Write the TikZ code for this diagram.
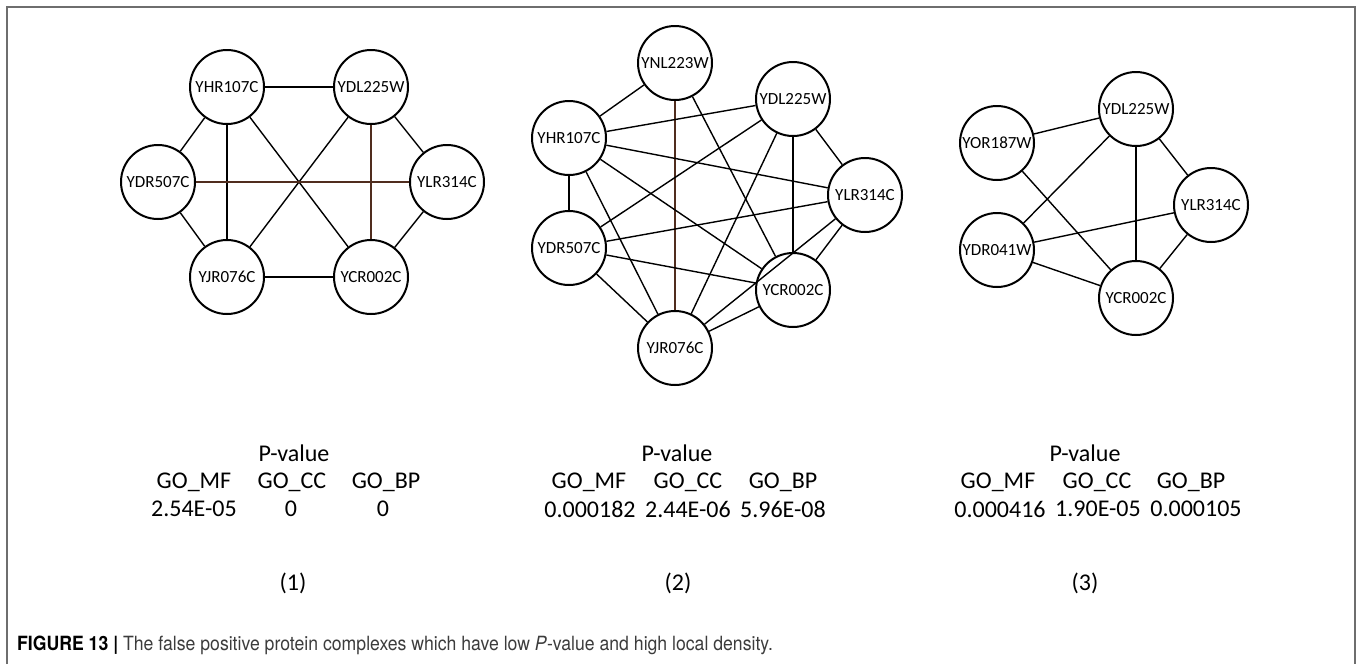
\documentclass[tikz,border=0pt]{standalone}
\usepackage{fontspec}
\usepackage{tikz}
\newfontfamily\calfont{Carlito}
\newfontfamily\capfont[FakeStretch=0.9]{TeX Gyre Heros}
\definecolor{framegray}{RGB}{110,110,110}
\definecolor{linkbrown}{RGB}{80,45,30}
\definecolor{captext}{RGB}{60,60,60}
\tikzset{
  prot/.style={circle, draw, line width=2pt, minimum size=74pt, inner sep=0pt,
    font=\calfont\fontsize{17}{19}\selectfont},
  link/.style={line width=1.4pt},
  brlink/.style={line width=1.2pt, draw=linkbrown},
  pval/.style={font=\calfont\fontsize{24}{27}\selectfont, inner sep=0pt}
}

\begin{document}
\begin{tikzpicture}[x=1pt, y=-1pt]

\useasboundingbox (0,0) rectangle (1357,664);

% frame
\draw[framegray, line width=2pt] (7,664) -- (7,7) -- (1355,7) -- (1355,664);

% complex (1)
\node[prot] (a1) at (227,87) {YHR107C};
\node[prot] (a2) at (371,87) {YDL225W};
\node[prot] (a3) at (158,182) {YDR507C};
\node[prot] (a4) at (447,182) {YLR314C};
\node[prot] (a5) at (227,277) {YJR076C};
\node[prot] (a6) at (371,277) {YCR002C};

\draw[link] (a1) -- (a2);
\draw[link] (a1) -- (a3);
\draw[link] (a1) -- (a5);
\draw[link] (a1) -- (a6);
\draw[link] (a2) -- (a4);
\draw[link] (a2) -- (a5);
\draw[brlink] (a2) -- (a6);
\draw[brlink] (a3) -- (a4);
\draw[link] (a3) -- (a5);
\draw[link] (a5) -- (a6);
\draw[link] (a4) -- (a6);

% complex (2)
\node[prot] (b1) at (675,63) {YNL223W};
\node[prot] (b2) at (793,99) {YDL225W};
\node[prot] (b3) at (569,138) {YHR107C};
\node[prot] (b4) at (865,195) {YLR314C};
\node[prot] (b5) at (569,248) {YDR507C};
\node[prot] (b6) at (793,290) {YCR002C};
\node[prot] (b7) at (675,348) {YJR076C};

\draw[link] (b1) -- (b3);
\draw[brlink] (b1) -- (b7);
\draw[link] (b1) -- (b6);
\draw[link] (b2) -- (b3);
\draw[link] (b2) -- (b5);
\draw[link] (b2) -- (b7);
\draw[link] (b2) -- (b6);
\draw[link] (b2) -- (b4);
\draw[link] (b3) -- (b4);
\draw[link] (b3) -- (b6);
\draw[link] (b3) -- (b7);
\draw[link] (b3) -- (b5);
\draw[link] (b5) -- (b4);
\draw[link] (b5) -- (b6);
\draw[link] (b5) -- (b7);
\draw[link] (b4) -- (b7);
\draw[link] (b4) -- (b6);
\draw[link] (b6) -- (b7);

% complex (3)
\node[prot] (c1) at (1136,109) {YDL225W};
\node[prot] (c2) at (997,143) {YOR187W};
\node[prot] (c3) at (1211,205) {YLR314C};
\node[prot] (c4) at (997,250) {YDR041W};
\node[prot] (c5) at (1136,298) {YCR002C};

\draw[link] (c2) -- (c1);
\draw[link] (c2) -- (c5);
\draw[link] (c1) -- (c4);
\draw[link] (c1) -- (c5);
\draw[link] (c1) -- (c3);
\draw[link] (c3) -- (c4);
\draw[link] (c3) -- (c5);
\draw[link] (c4) -- (c5);

% p-values
\node[pval] (pv1) at (294,453) {P-value};
\node[pval] (mf1) at (194,482) {GO\_MF};
\node[pval] (cc1) at (292,482) {GO\_CC};
\node[pval] (bp1) at (386,482) {GO\_BP};
\node[pval] (vmf1) at (194,509) {2.54E-05};
\node[pval] (vcc1) at (291,509) {0};
\node[pval] (vbp1) at (383,509) {0};
\node[pval] (lab1) at (293,583) {(1)};

\node[pval] (pv2) at (677,453) {P-value};
\node[pval] (mf2) at (589,482) {GO\_MF};
\node[pval] (cc2) at (688,482) {GO\_CC};
\node[pval] (bp2) at (783,482) {GO\_BP};
\node[pval] (vmf2) at (590,509) {0.000182};
\node[pval] (vcc2) at (688,509) {2.44E-06};
\node[pval] (vbp2) at (783,509) {5.96E-08};
\node[pval] (lab2) at (678,583) {(2)};

\node[pval] (pv3) at (1085,453) {P-value};
\node[pval] (mf3) at (998,482) {GO\_MF};
\node[pval] (cc3) at (1097,482) {GO\_CC};
\node[pval] (bp3) at (1191,482) {GO\_BP};
\node[pval] (vmf3) at (1000,509) {0.000416};
\node[pval] (vcc3) at (1098,509) {1.90E-05};
\node[pval] (vbp3) at (1196,509) {0.000105};
\node[pval] (lab3) at (1085,583) {(3)};

% caption
\node[anchor=west, inner sep=0pt, text=captext, font=\capfont\fontsize{19.6}{22}\selectfont]
  (cap) at (17,645) {\textbf{\color{black}FIGURE 13 |} The false positive protein complexes which have low \textit{P}-value and high local density.};

\end{tikzpicture}
\end{document}
